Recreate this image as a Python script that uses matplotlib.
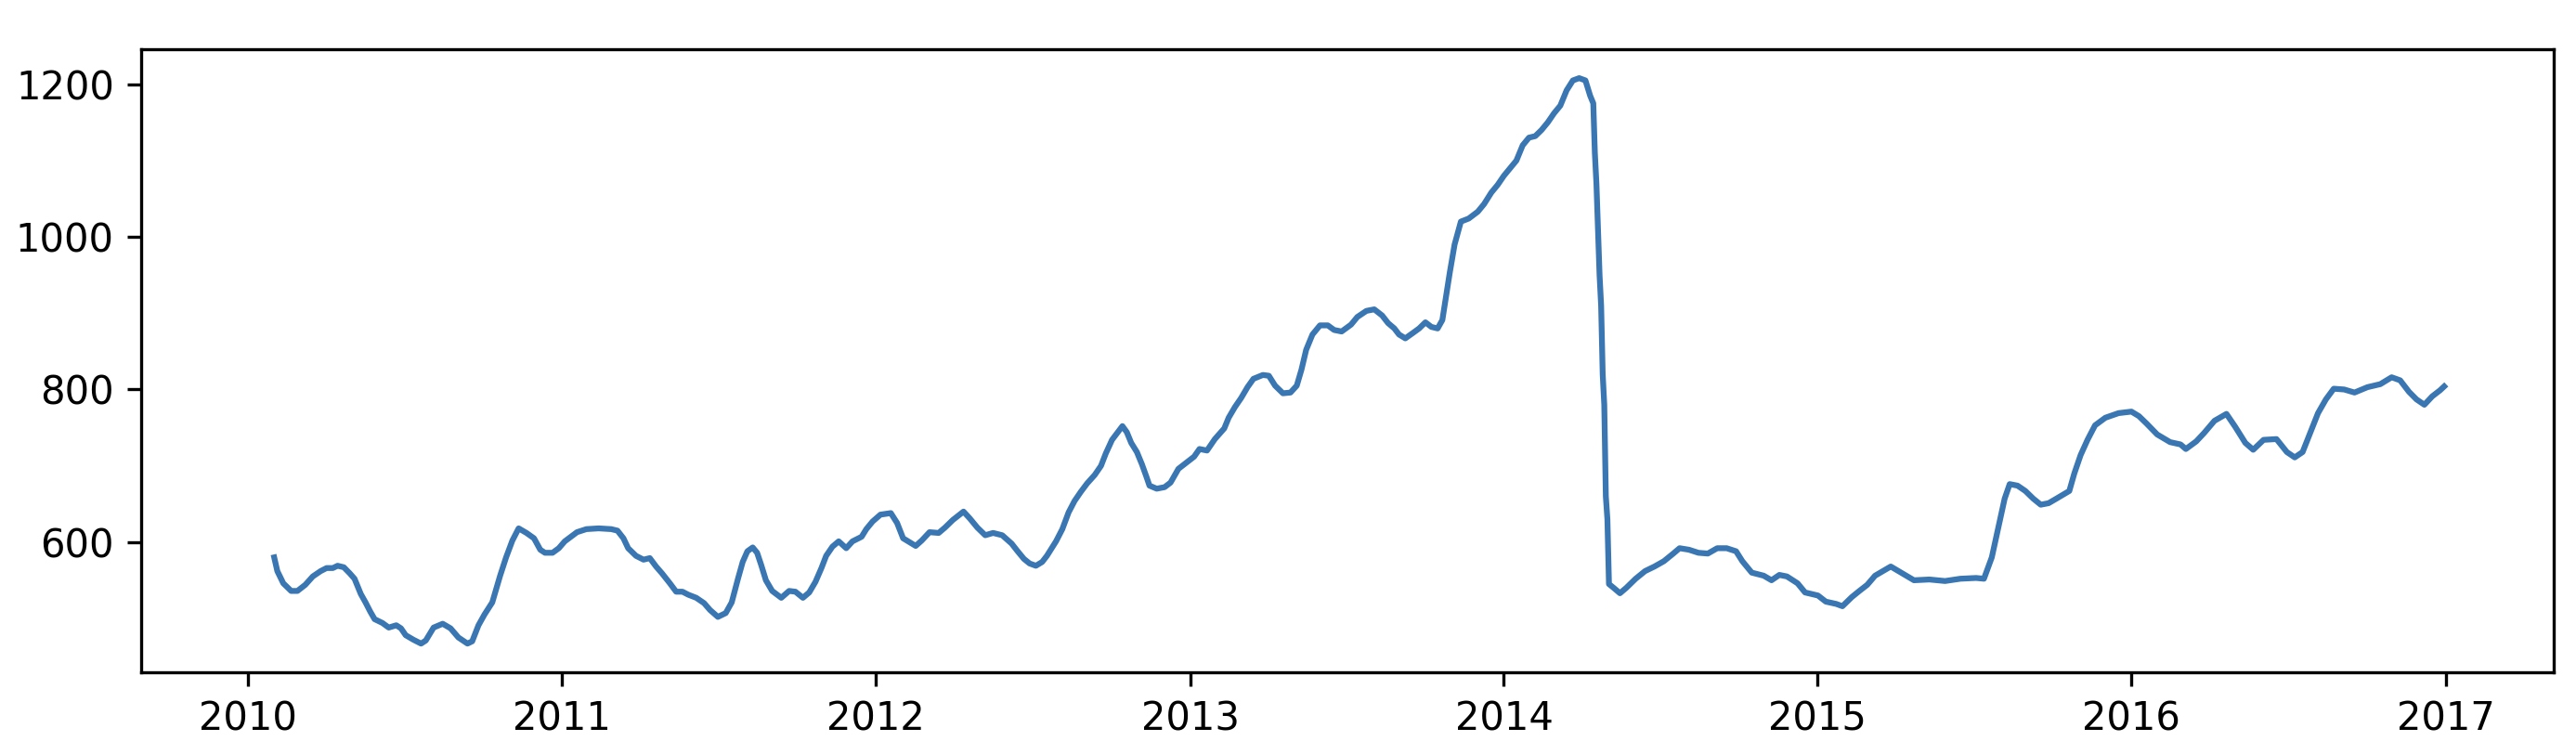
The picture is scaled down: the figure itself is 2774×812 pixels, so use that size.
import numpy as np
import pandas as pd
import matplotlib
matplotlib.use("Agg")
import matplotlib.pyplot as plt

# Time axis as fractional years
t = [
    # 2010
    2010.084, 2010.094, 2010.113, 2010.138, 2010.158, 2010.183, 2010.207, 2010.232,
    2010.251, 2010.271, 2010.286, 2010.306, 2010.325, 2010.340, 2010.360, 2010.375,
    2010.390, 2010.404, 2010.429, 2010.449, 2010.473, 2010.488, 2010.503, 2010.528,
    2010.552, 2010.567, 2010.592, 2010.621, 2010.646, 2010.671, 2010.700, 2010.715,
    2010.735, 2010.754, 2010.779, 2010.804, 2010.823, 2010.843, 2010.863, 2010.888,
    2010.912, 2010.932, 2010.947, 2010.971, 2010.991,
    # 2011
    2011.010, 2011.049, 2011.079, 2011.118, 2011.158, 2011.178, 2011.197, 2011.212,
    2011.237, 2011.261, 2011.281, 2011.301, 2011.320, 2011.345, 2011.365, 2011.385,
    2011.404, 2011.429, 2011.454, 2011.473, 2011.498, 2011.523, 2011.542, 2011.562,
    2011.577, 2011.592, 2011.609, 2011.623, 2011.636, 2011.651, 2011.671, 2011.700,
    2011.725, 2011.745, 2011.769, 2011.789, 2011.809, 2011.828, 2011.843, 2011.863,
    2011.883, 2011.907, 2011.927, 2011.956, 2011.971, 2011.991,
    # 2012
    2012.016, 2012.049, 2012.069, 2012.088, 2012.128, 2012.147, 2012.172, 2012.201,
    2012.221, 2012.246, 2012.280, 2012.300, 2012.324, 2012.349, 2012.374, 2012.403,
    2012.433, 2012.452, 2012.472, 2012.490, 2012.510, 2012.530, 2012.545, 2012.574,
    2012.594, 2012.614, 2012.633, 2012.653, 2012.673, 2012.697, 2012.717, 2012.732,
    2012.752, 2012.785, 2012.799, 2012.813, 2012.831, 2012.847, 2012.861, 2012.871,
    2012.894, 2012.919, 2012.938, 2012.963, 2012.988,
    # 2013
    2013.013, 2013.030, 2013.054, 2013.079, 2013.109, 2013.123, 2013.143, 2013.163,
    2013.183, 2013.202, 2013.232, 2013.251, 2013.271, 2013.296, 2013.320, 2013.340,
    2013.355, 2013.370, 2013.390, 2013.414, 2013.439, 2013.459, 2013.483, 2013.513,
    2013.533, 2013.562, 2013.587, 2013.612, 2013.631, 2013.651, 2013.666, 2013.686,
    2013.710, 2013.730, 2013.750, 2013.769, 2013.789, 2013.804, 2013.814, 2013.828,
    2013.843, 2013.863, 2013.888, 2013.917, 2013.937, 2013.960, 2013.980,
    # 2014
    2014.000, 2014.020, 2014.040, 2014.060, 2014.080, 2014.100, 2014.120, 2014.140,
    2014.160, 2014.180, 2014.200, 2014.220, 2014.240, 2014.260, 2014.275, 2014.285,
    2014.290, 2014.295, 2014.305, 2014.310, 2014.315, 2014.320, 2014.325, 2014.330,
    2014.335, 2014.350, 2014.370, 2014.390, 2014.420, 2014.450, 2014.480, 2014.510,
    2014.540, 2014.560, 2014.590, 2014.620, 2014.650, 2014.680, 2014.710, 2014.740,
    2014.760, 2014.790, 2014.828, 2014.853, 2014.878, 2014.902, 2014.936, 2014.960,
    # 2015
    2015.001, 2015.026, 2015.059, 2015.079, 2015.109, 2015.133, 2015.158, 2015.183,
    2015.216, 2015.233, 2015.266, 2015.307, 2015.356, 2015.406, 2015.455, 2015.505,
    2015.530, 2015.555, 2015.579, 2015.596, 2015.612, 2015.637, 2015.662, 2015.687,
    2015.711, 2015.736, 2015.761, 2015.802, 2015.818, 2015.838, 2015.860, 2015.884,
    2015.917, 2015.959,
    # 2016
    2016.000, 2016.024, 2016.049, 2016.082, 2016.123, 2016.156, 2016.173, 2016.206,
    2016.231, 2016.264, 2016.302, 2016.330, 2016.362, 2016.387, 2016.420, 2016.461,
    2016.494, 2016.519, 2016.544, 2016.568, 2016.593, 2016.618, 2016.643, 2016.676,
    2016.709, 2016.750, 2016.791, 2016.827, 2016.854, 2016.882, 2016.906, 2016.931,
    2016.956, 2016.981, 2016.994,
]

values = [
    # 2010
    580, 562, 546, 536, 536, 544, 555, 562,
    566, 566, 569, 567, 559, 552, 532, 521,
    509, 499, 494, 488, 491, 487, 478, 472,
    467, 471, 488, 493, 487, 475, 467, 470,
    491, 505, 521, 556, 580, 602, 618, 612,
    605, 590, 586, 586, 592,
    # 2011
    601, 613, 617, 618, 617, 615, 605, 592,
    582, 577, 579, 568, 559, 546, 535, 535,
    531, 527, 520, 511, 502, 507, 521, 552,
    574, 588, 593, 586, 570, 550, 536, 527,
    536, 535, 527, 534, 548, 566, 582, 594,
    601, 592, 601, 607, 617, 627,
    # 2012
    636, 638, 625, 605, 595, 602, 613, 612,
    619, 629, 640, 631, 619, 609, 612, 609,
    598, 588, 578, 572, 569, 574, 582, 601,
    617, 639, 654, 666, 677, 688, 700, 716,
    734, 752, 744, 730, 718, 702, 686, 674,
    670, 672, 678, 696, 704,
    # 2013
    712, 722, 720, 735, 749, 763, 777, 789,
    803, 814, 819, 818, 805, 795, 796, 805,
    826, 852, 872, 884, 884, 878, 876, 885,
    895, 903, 905, 897, 887, 880, 872, 867,
    874, 880, 888, 882, 880, 891, 917, 954,
    990, 1020, 1024, 1033, 1043, 1058, 1068,
    # 2014
    1080, 1090, 1100, 1120, 1130, 1132, 1140, 1150,
    1162, 1172, 1192, 1205, 1208, 1205, 1185, 1175,
    1110, 1070, 950, 910, 820, 780, 660, 630,
    545, 540, 533, 540, 552, 562, 568, 575,
    585, 592, 590, 586, 585, 592, 592, 588,
    575, 560, 556, 550, 557, 555, 546, 534,
    # 2015
    530, 522, 519, 516, 528, 536, 544, 556,
    564, 568, 560, 550, 551, 549, 552, 553,
    552, 580, 625, 657, 676, 674, 667, 657,
    649, 651, 657, 667, 690, 714, 734, 753,
    763, 769,
    # 2016
    771, 765, 755, 741, 731, 728, 722, 732,
    743, 759, 768, 751, 730, 721, 734, 735,
    718, 711, 718, 743, 769, 787, 801, 800,
    796, 803, 807, 816, 812, 797, 787, 780,
    791, 799, 804,
]


def frac_to_date(y):
    yr = int(np.floor(y))
    start = pd.Timestamp(year=yr, month=1, day=1)
    end = pd.Timestamp(year=yr + 1, month=1, day=1)
    return start + (end - start) * (y - yr)


dates = [frac_to_date(y) for y in t]

W, H, DPI = 2774, 812, 300
fig = plt.figure(figsize=(W / DPI, H / DPI), dpi=DPI)
ax = fig.add_axes([152 / W, 1 - 724 / H, (2750 - 152) / W, (724 - 53) / H])

ax.plot(dates, values, color="#3a76b1", linewidth=1.5)

ax.set_xlim(frac_to_date(2009.660), frac_to_date(2017.343))
ax.set_ylim(429.4, 1245.9)
ax.set_yticks([600, 800, 1000, 1200])

fig.savefig("out.png", dpi=DPI)
